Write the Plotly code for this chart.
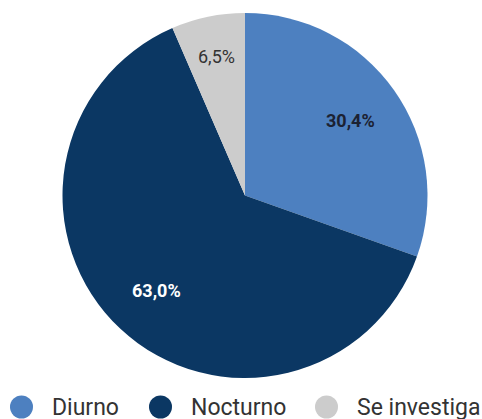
import math
import plotly.graph_objects as go

# ---- data ----
categories = ["Diurno", "Nocturno", "Se investiga"]
values = [30.4, 63.0, 6.5]
colors = ["#4d80c0", "#0b3763", "#cccccc"]
label_colors = ["#1c2233", "#ffffff", "#333333"]
label_bold = [True, True, False]

W, H = 482, 419
# pie geometry (px) in the page
CX, CY, R = 245, 195.5, 182.5


def fmt(v, bold):
    s = f"{v:.1f}".replace(".", ",") + "%"
    return f"<b>{s}</b>" if bold else s


fig = go.Figure()
fig.add_trace(go.Pie(
    labels=categories,
    values=values,
    sort=False,
    direction="clockwise",
    rotation=0,
    marker=dict(colors=colors, line=dict(width=0)),
    textinfo="none",
    hoverinfo="label+percent",
    showlegend=False,
    domain=dict(x=[(CX - R) / W, (CX + R) / W], y=[1 - (CY + R) / H, 1 - (CY - R) / H]),
))

# ---- slice labels, placed along each slice's bisector ----
total = sum(values)
cum = 0.0
for v, col, b in zip(values, label_colors, label_bold):
    mid = (cum + v / 2) / total * 2 * math.pi
    cum += v
    frac = 0.78 if v / total < 0.1 else 0.71
    px = CX + math.sin(mid) * R * frac
    py = CY - math.cos(mid) * R * frac
    fig.add_annotation(xref="paper", yref="paper", x=px / W, y=1 - py / H,
                       xanchor="center", yanchor="middle", showarrow=False,
                       text=fmt(v, b), font=dict(family="Roboto", size=18, color=col))

# ---- custom legend (large circle markers) ----
legend_left = [10, 149, 315]   # layout positions (px) of each legend item
legend_y = 407
dot_d = 23
for name, col, x0 in zip(categories, colors, legend_left):
    fig.add_shape(type="circle", xref="paper", yref="paper",
                  x0=x0 / W, x1=(x0 + dot_d) / W,
                  y0=1 - (legend_y + dot_d / 2) / H, y1=1 - (legend_y - dot_d / 2) / H,
                  fillcolor=col, line=dict(width=0))
    fig.add_annotation(xref="paper", yref="paper", x=(x0 + 40) / W, y=1 - legend_y / H,
                       xanchor="left", yanchor="middle", showarrow=False,
                       text=name, font=dict(family="Roboto", size=23, color="#333333"))

fig.update_layout(
    width=W, height=H,
    margin=dict(l=0, r=0, t=0, b=0),
    paper_bgcolor="white", plot_bgcolor="white",
    showlegend=False,
)
fig.write_html("out.html", config={"displayModeBar": False},
               post_script="document.body.style.margin='0';")
